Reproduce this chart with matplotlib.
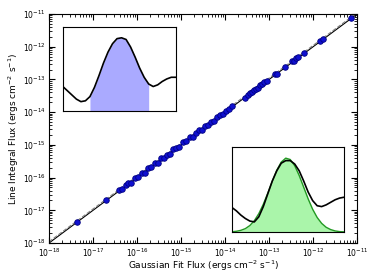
import matplotlib
matplotlib.use('Agg')
import matplotlib.pyplot as plt
import numpy as np

# log10 of the gaussian fit flux for each line
gauss_log = [-17.36, -16.70, -16.41, -16.34, -16.25, -16.20, -16.14, -16.05, -15.98,
             -15.89, -15.82, -15.75, -15.68, -15.59, -15.52, -15.45, -15.39, -15.32,
             -15.25, -15.18, -15.11, -15.05, -14.95, -14.89, -14.80, -14.73, -14.66,
             -14.59, -14.52, -14.45, -14.39, -14.32, -14.25, -14.18, -14.11, -14.05,
             -13.98, -13.91, -13.84, -13.55, -13.48, -13.43, -13.39, -13.34, -13.30,
             -13.25, -13.20, -13.16, -13.11, -13.05, -12.86, -12.82, -12.64, -12.48,
             -12.43, -12.39, -12.34, -12.20, -11.84, -11.77, -11.14]
# offset of the line integral flux from the gaussian flux (dex)
offset = [0.00, 0.01, 0.02, 0.00, 0.03, 0.05, -0.02, 0.04, 0.00,
          0.02, -0.03, 0.05, 0.01, 0.03, -0.02, 0.04, 0.00, 0.02,
          -0.03, 0.05, 0.01, -0.02, 0.03, 0.00, 0.04, -0.02, 0.02,
          0.05, -0.01, 0.03, 0.00, 0.02, -0.02, 0.04, 0.01, -0.01,
          0.03, 0.00, 0.02, -0.03, 0.00, 0.02, 0.01, 0.03, 0.02,
          0.00, 0.03, 0.01, 0.02, 0.00, 0.03, -0.01, 0.02, 0.03,
          0.00, 0.04, 0.02, 0.01, 0.03, 0.00, 0.02]

# example spectra shown in the insets (normalised units)
spec_x = [0.00, 0.04, 0.08, 0.12, 0.16, 0.20, 0.24, 0.28, 0.32, 0.36, 0.40, 0.44, 0.48,
          0.52, 0.56, 0.60, 0.64, 0.68, 0.72, 0.76, 0.80, 0.84, 0.88, 0.92, 0.96, 1.00]
spec1 = [0.29, 0.24, 0.19, 0.14, 0.11, 0.12, 0.17, 0.28, 0.42, 0.57, 0.70, 0.80, 0.86,
         0.87, 0.85, 0.76, 0.64, 0.51, 0.40, 0.32, 0.29, 0.31, 0.35, 0.38, 0.40, 0.40]
spec2 = [0.29, 0.25, 0.20, 0.16, 0.13, 0.12, 0.18, 0.30, 0.45, 0.60, 0.72, 0.81, 0.84,
         0.84, 0.80, 0.72, 0.60, 0.47, 0.37, 0.31, 0.30, 0.32, 0.35, 0.38, 0.40, 0.41]
gfit2 = [0.004, 0.010, 0.021, 0.041, 0.077, 0.134, 0.217, 0.327, 0.458, 0.597, 0.727,
         0.823, 0.869, 0.853, 0.780, 0.665, 0.528, 0.390, 0.268, 0.172, 0.103, 0.057,
         0.030, 0.014, 0.006, 0.003]

gx = 10 ** np.array(gauss_log)
ly = 10 ** (np.array(gauss_log) + np.array(offset))

fig = plt.figure(figsize=(3.74, 2.8), dpi=100)
ax = fig.add_axes([0.131, 0.132, 0.824, 0.818])
ax.plot([1e-18, 1e-11], [1e-18, 1e-11], color='k', lw=0.8)
ax.plot([1e-18, 1e-11], [1.1e-18, 1.1e-11], color='gray', lw=0.8, ls='--')
ax.plot(gx, ly, 'o', color='#1010d0', mec='#000080', mew=0.6, ms=4)
ax.set_xscale('log')
ax.set_yscale('log')
ax.set_xlim(1e-18, 1e-11)
ax.set_ylim(1e-18, 1e-11)
ax.tick_params(which='both', direction='in', top=True, right=True, labelsize=5.5)
ax.tick_params(which='major', length=4, pad=2.5)
ax.tick_params(which='minor', length=2)
ax.set_xlabel('Gaussian Fit Flux (ergs cm$^{-2}$ s$^{-1}$)', fontsize=6.5, labelpad=0)
ax.set_ylabel('Line Integral Flux (ergs cm$^{-2}$ s$^{-1}$)', fontsize=6.5, labelpad=1)

# inset 1: line integral window
sx = np.array(spec_x)
ins1 = fig.add_axes([0.168, 0.604, 0.302, 0.30])
s1 = np.array(spec1)
win = (sx >= 0.24) & (sx <= 0.76)
ins1.fill_between(sx[win], 0, s1[win], color='#aaaaff', lw=0)
ins1.plot(sx, s1, color='k', lw=1.2)
ins1.set_xlim(0, 1)
ins1.set_ylim(0, 1)
ins1.set_xticks([])
ins1.set_yticks([])

# inset 2: gaussian fit
ins2 = fig.add_axes([0.620, 0.171, 0.30, 0.304])
ins2.fill_between(sx, 0, gfit2, color='#aaf5aa', lw=0)
ins2.plot(sx, gfit2, color='#229922', lw=1.0)
ins2.plot(sx, spec2, color='k', lw=1.2)
ins2.set_xlim(0, 1)
ins2.set_ylim(0, 1)
ins2.set_xticks([])
ins2.set_yticks([])

plt.savefig('out.png', dpi=100)
